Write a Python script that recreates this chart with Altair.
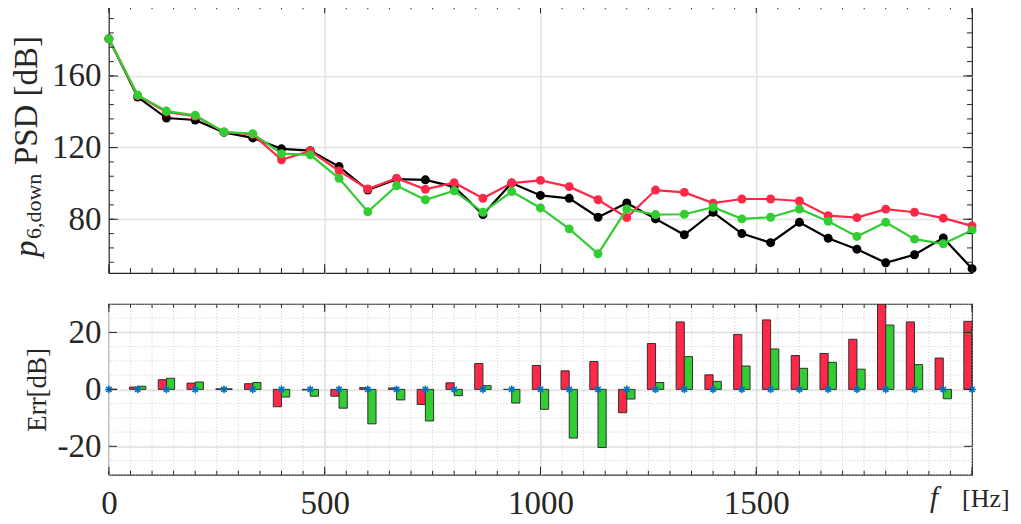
import altair as alt
import pandas as pd

# ---------------- data ----------------
freq = [0, 66.67, 133.33, 200, 266.67, 333.33, 400, 466.67, 533.33, 600,
        666.67, 733.33, 800, 866.67, 933.33, 1000, 1066.67, 1133.33, 1200,
        1266.67, 1333.33, 1400, 1466.67, 1533.33, 1600, 1666.67, 1733.33,
        1800, 1866.67, 1933.33, 2000]
psd_black = [180.7, 148.2, 136.5, 135.4, 128.5, 125.4, 119.3, 118.3, 109.4, 96.3,
             102.4, 102.0, 98.1, 82.6, 100.2, 93.3, 91.7, 81.1, 89.1, 80.2,
             71.3, 83.9, 72.0, 66.9, 78.3, 69.4, 63.3, 55.7, 60.2, 69.6, 52.4]
psd_red = [180.7, 149.0, 139.9, 137.6, 128.7, 127.4, 113.2, 118.1, 107.0, 96.9,
           102.9, 96.7, 100.4, 91.7, 100.2, 101.7, 98.2, 90.9, 80.9, 96.3,
           95.0, 89.0, 91.3, 91.3, 90.2, 82.0, 80.9, 85.6, 83.9, 80.6, 76.3]
psd_green = [180.7, 149.3, 140.4, 138.0, 128.7, 127.8, 116.6, 115.9, 102.8, 84.2,
             98.7, 90.9, 95.9, 83.9, 95.4, 86.3, 74.6, 60.7, 85.7, 82.6,
             82.8, 86.7, 80.2, 81.1, 85.7, 78.9, 70.4, 78.3, 68.9, 66.3, 73.9]

x_ticks_minor = list(range(0, 2001, 50))
x_ticks_major = [0, 500, 1000, 1500, 2000]
x_labels = [0, 500, 1000, 1500]
x_grid_top = [500, 1000, 1500]
y1_ticks_minor = list(range(56, 201, 8))
y1_ticks_major = [80, 120, 160]
y2_ticks_major = [-20, 0, 20]
y2_grid_minor = list(range(-30, 31, 5))

# ---------------- style ----------------
W, H1, H2 = 864, 269, 171
RED = "#FF2846"
GREEN = "#32CD32"
BLACK = "#000000"
BLUE = "#0072BD"
FRAME = "#262626"
FONT = "Liberation Serif"
LBL = 33
BAR_W = 19.0
ERR_TITLE = "Err[dB]"
ASTERISK = "M-1,0L1,0M0,-1L0,1M-0.7,-0.7L0.7,0.7M-0.7,0.7L0.7,-0.7"

xs = alt.Scale(domain=[0, 2000], nice=False, zero=False)
ys1 = alt.Scale(domain=[50, 200], nice=False, zero=False)
ys2 = alt.Scale(domain=[-30, 30], nice=False, zero=False)


def X(field):
    return alt.X(field, scale=xs, title=None)


def tick_layers(ys, ytitle, H, xmin, xmaj, ymin, ymaj, minor_len, major_len):
    out = []
    for vals, L in ((xmin, minor_len), (xmaj, major_len)):
        df = pd.DataFrame({"f": vals})
        for (a, b) in ((H, H - L), (0, L)):
            out.append(alt.Chart(df).mark_rule(color=FRAME, strokeWidth=1).encode(
                x=X("f:Q"), y=alt.value(a), y2=alt.value(b)))
    for vals, L in ((ymin, minor_len), (ymaj, major_len)):
        if not vals:
            continue
        df = pd.DataFrame({"v": vals})
        for (a, b) in ((0, L), (W, W - L)):
            out.append(alt.Chart(df).mark_rule(color=FRAME, strokeWidth=1).encode(
                y=alt.Y("v:Q", scale=ys, title=ytitle), x=alt.value(a), x2=alt.value(b)))
    return out


axis_common = dict(ticks=False, domain=False, labelFont=FONT, labelFontSize=LBL,
                   labelColor=FRAME, labelExpr="'' + datum.value", grid=True,
                   labelFlush=False)

# ---------------- top panel ----------------
base_top = alt.Chart(pd.DataFrame({"f": x_grid_top, "v": [80, 120, 160]})).mark_point(opacity=0).encode(
    x=alt.X("f:Q", scale=xs, title=None,
            axis=alt.Axis(values=x_grid_top, labels=False, **axis_common)),
    y=alt.Y("v:Q", scale=ys1, title=None,
            axis=alt.Axis(values=y1_ticks_major, labelPadding=8, **axis_common)),
)

series_layers = []
for vals, col in ((psd_black, BLACK), (psd_red, RED), (psd_green, GREEN)):
    df = pd.DataFrame({"f": freq, "v": vals})
    enc = dict(x=X("f:Q"), y=alt.Y("v:Q", scale=ys1, title=None))
    series_layers.append(alt.Chart(df).mark_line(color=col, strokeWidth=2.2).encode(**enc))
    series_layers.append(alt.Chart(df).mark_point(color=col, filled=True, opacity=1,
                                                  size=80).encode(**enc))

title_parts = [
    ("p", -72, 253, 33, "italic"),
    ("6,down", -68, 235, 22, "normal"),
    ("PSD [dB]", -72, 161, 33, "normal"),
]
title_layers = []
for txt, tx, ty, fs, st in title_parts:
    title_layers.append(alt.Chart(pd.DataFrame({"t": [txt]})).mark_text(
        angle=270, align="left", baseline="alphabetic", font=FONT, fontSize=fs,
        fontStyle=st, color=FRAME).encode(
        text="t:N", x=alt.value(tx), y=alt.value(ty)))

top = alt.layer(
    base_top, *series_layers,
    *tick_layers(ys1, None, H1, x_ticks_minor, x_ticks_major, y1_ticks_minor,
                 y1_ticks_major, 5, 9),
    *title_layers,
).properties(width=W, height=H1)

# ---------------- bottom panel ----------------
err_red = [r - b for r, b in zip(psd_red, psd_black)]
err_green = [g - b for g, b in zip(psd_green, psd_black)]

df_red = pd.DataFrame({"f": [f - BAR_W for f in freq], "f1": freq, "v": err_red,
                       "z": [0] * len(freq)})
df_green = pd.DataFrame({"f": freq, "f1": [f + BAR_W for f in freq], "v": err_green,
                         "z": [0] * len(freq)})
df_star = pd.DataFrame({"f": freq, "v": [0] * len(freq)})

base_bot = alt.Chart(pd.DataFrame({"f": x_labels, "v": [0] * len(x_labels)})).mark_point(opacity=0).encode(
    x=alt.X("f:Q", scale=xs, title=None,
            axis=alt.Axis(values=x_labels, labelPadding=13, **axis_common)),
    y=alt.Y("v:Q", scale=ys2, title=ERR_TITLE,
            axis=alt.Axis(values=y2_ticks_major, labelPadding=8,
                          titlePadding=5, titleFontSize=27, titleFont=FONT,
                          titleFontWeight="normal", titleColor=FRAME, **axis_common)),
)


def YB(field):
    return alt.Y(field, scale=ys2, title=ERR_TITLE)


minor_v = alt.Chart(pd.DataFrame({"f": x_ticks_minor})).mark_rule(
    color="#cfcfcf", strokeWidth=1, strokeDash=[1, 2]).encode(x=X("f:Q"))
minor_h = alt.Chart(pd.DataFrame({"v": y2_grid_minor})).mark_rule(
    color="#cfcfcf", strokeWidth=1, strokeDash=[1, 2]).encode(y=YB("v:Q"))

bars = []
for df, col in ((df_red, RED), (df_green, GREEN)):
    bars.append(alt.Chart(df).mark_bar(color=col, stroke="#303030", strokeWidth=1,
                                       clip=True).encode(
        x=X("f:Q"), x2="f1:Q", y=YB("v:Q"), y2="z:Q"))

stars = alt.Chart(df_star).mark_point(shape=ASTERISK, color=BLUE, filled=False,
                                      strokeWidth=1.5, size=60, opacity=1).encode(
    x=X("f:Q"), y=YB("v:Q"))

xt_parts = [("f", 822, 203, 29, "italic"), ("[Hz]", 854, 203, 26, "normal")]
xt_layers = []
for txt, tx, ty, fs, st in xt_parts:
    xt_layers.append(alt.Chart(pd.DataFrame({"t": [txt]})).mark_text(
        align="left", baseline="alphabetic", font=FONT, fontSize=fs,
        fontStyle=st, color=FRAME).encode(
        text="t:N", x=alt.value(tx), y=alt.value(ty)))

bottom = alt.layer(
    base_bot, minor_v, minor_h, *bars, stars,
    *tick_layers(ys2, ERR_TITLE, H2, x_ticks_minor, x_ticks_major, [], y2_ticks_major, 4, 8),
    *xt_layers,
).properties(width=W, height=H2)

chart = alt.vconcat(top, bottom, spacing=27).properties(
    padding={"left": 2, "top": -6, "right": 2, "bottom": 2}
).configure_view(
    stroke=FRAME, strokeWidth=1.2
).configure_axis(
    gridColor="#e4e4e4", gridWidth=1.5,
)

chart.save("out.html", embed_options={"renderer": "svg", "actions": False})
